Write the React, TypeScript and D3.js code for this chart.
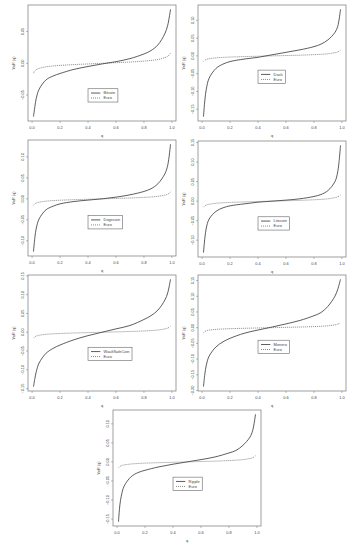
import * as d3 from "d3";

// quantile levels at which the VaR curves were read
const qLevels = [0.01, 0.02, 0.03, 0.05, 0.1, 0.15, 0.2, 0.3, 0.4, 0.5, 0.6, 0.7, 0.8, 0.85, 0.9, 0.95, 0.97, 0.99];

const euroVaR = [-0.0155, -0.012, -0.0100, -0.0080, -0.0055, -0.0042, -0.0033, -0.0020, -0.0010, 0.0, 0.0010, 0.0020, 0.0035, 0.0045, 0.0060, 0.0090, 0.0110, 0.0160];

const bitcoinVaR = [-0.084, -0.068, -0.055, -0.041, -0.026, -0.020, -0.016, -0.0095, -0.005, -0.001, 0.0026, 0.0074, 0.0147, 0.020, 0.029, 0.047, 0.060, 0.085];
const dashVaR = [-0.171, -0.124, -0.094, -0.063, -0.035, -0.023, -0.016, -0.009, -0.004, 0.003, 0.010, 0.017, 0.026, 0.033, 0.045, 0.066, 0.083, 0.131];
const dogecoinVaR = [-0.126, -0.092, -0.070, -0.048, -0.026, -0.0176, -0.012, -0.0064, -0.003, 0.0, 0.004, 0.0096, 0.0176, 0.024, 0.036, 0.060, 0.080, 0.130];
const litecoinVaR = [-0.132, -0.094, -0.069, -0.046, -0.026, -0.017, -0.012, -0.007, -0.0026, 0.0, 0.0026, 0.006, 0.012, 0.017, 0.027, 0.050, 0.075, 0.143];
const waultVaR = [-0.145, -0.123, -0.105, -0.082, -0.056, -0.043, -0.034, -0.020, -0.009, 0.0, 0.009, 0.018, 0.034, 0.044, 0.059, 0.086, 0.105, 0.141];
const moneroVaR = [-0.188, -0.147, -0.120, -0.091, -0.061, -0.045, -0.034, -0.018, -0.0075, 0.002, 0.012, 0.023, 0.038, 0.048, 0.068, 0.100, 0.122, 0.154];
const rippleVaR = [-0.157, -0.113, -0.090, -0.064, -0.039, -0.028, -0.022, -0.013, -0.006, 0.0, 0.006, 0.013, 0.0235, 0.030, 0.0435, 0.065, 0.083, 0.125];

const coinNames = ["Bitcoin", "Dash", "Dogecoin", "Litecoin", "WaultSafeCoin", "Monero", "Ripple"];
const coinSeries = [bitcoinVaR, dashVaR, dogecoinVaR, litecoinVaR, waultVaR, moneroVaR, rippleVaR];
const yTickSets = [
  [-0.05, 0, 0.05],
  [-0.15, -0.1, -0.05, 0, 0.05, 0.1],
  [-0.1, -0.05, 0, 0.05, 0.1],
  [-0.1, -0.05, 0, 0.05, 0.1, 0.15],
  [-0.15, -0.1, -0.05, 0, 0.05, 0.1, 0.15],
  [-0.2, -0.15, -0.1, -0.05, 0, 0.05, 0.1, 0.15],
  [-0.15, -0.1, -0.05, 0, 0.05, 0.1],
];
const xTicks = [0, 0.2, 0.4, 0.6, 0.8, 1.0];

// plot box positions in the page
const boxes = [
  { x: 28, y: 5 },
  { x: 198, y: 5 },
  { x: 28, y: 140 },
  { x: 198, y: 141 },
  { x: 28, y: 275 },
  { x: 198, y: 275 },
  { x: 113, y: 410 },
];
const boxW = 148;
const boxH = 116;
const FONT = "'Liberation Sans', Arial, sans-serif";
const fs = 3.9;
const ink = "#444";

const measure = (() => {
  const c = typeof document !== "undefined" ? document.createElement("canvas").getContext("2d") : null;
  return (t: string) => {
    if (!c) return t.length * fs * 0.5;
    c.font = `${fs}px ${FONT}`;
    return c.measureText(t).width;
  };
})();

// R style 4% extension
const padDomain = (lo: number, hi: number) => {
  const p = (hi - lo) * 0.04;
  return [lo - p, hi + p];
};

const Panel = ({ i }: { i: number }) => {
  const { x: left, y: top } = boxes[i];
  const values = coinSeries[i];
  const name = coinNames[i];
  const all = values.concat(euroVaR);
  const x = d3.scaleLinear().domain(padDomain(d3.min(qLevels)!, d3.max(qLevels)!)).range([left, left + boxW]);
  const y = d3.scaleLinear().domain(padDomain(d3.min(all)!, d3.max(all)!)).range([top + boxH, top]);
  const line = d3.line<number>()
    .x((_, k) => x(qLevels[k]))
    .y((d) => y(d))
    .curve(d3.curveCatmullRom.alpha(0.5));
  const fmtY = d3.format(".2f");
  const fmtX = d3.format(".1f");
  const lx = x(0.4);
  const ly = y(-0.04);
  const lw = 15.6 + Math.max(measure(name), measure("Euro")) + 2.6;
  return (
    <g>
      <rect x={left} y={top} width={boxW} height={boxH} fill="none" stroke="#777" strokeWidth={0.7} />
      <path d={line(values) ?? ""} fill="none" stroke="#333" strokeWidth={0.8} />
      <path d={line(euroVaR) ?? ""} fill="none" stroke="#555" strokeWidth={0.7} strokeDasharray="1,1" />
      {xTicks.map((t) => (
        <g key={t}>
          <line x1={x(t)} x2={x(t)} y1={top + boxH} y2={top + boxH + 2} stroke="#777" strokeWidth={0.5} />
          <text x={x(t)} y={top + boxH + 8.3} fontSize={fs} textAnchor="middle" fill={ink} fontFamily={FONT}>{fmtX(t)}</text>
        </g>
      ))}
      {yTickSets[i].map((t) => (
        <g key={t}>
          <line x1={left - 2} x2={left} y1={y(t)} y2={y(t)} stroke="#777" strokeWidth={0.5} />
          <text transform={`translate(${left - 4.5},${y(t)}) rotate(-90)`} fontSize={fs} textAnchor="middle" fill={ink} fontFamily={FONT}>{fmtY(t)}</text>
        </g>
      ))}
      <text x={left + boxW / 2} y={top + boxH + 16} fontSize={fs} textAnchor="middle" fill={ink} fontFamily={FONT}>q</text>
      <text transform={`translate(${left - 13},${top + boxH / 2}) rotate(-90)`} fontSize={fs} textAnchor="middle" fill={ink} fontFamily={FONT}>VaR (q)</text>
      <rect x={lx} y={ly} width={lw} height={13.3} fill="white" stroke="#666" strokeWidth={0.6} />
      <line x1={lx + 3} x2={lx + 12.3} y1={ly + 4.3} y2={ly + 4.3} stroke="#333" strokeWidth={0.8} />
      <line x1={lx + 3} x2={lx + 12.3} y1={ly + 9.3} y2={ly + 9.3} stroke="#555" strokeWidth={0.7} strokeDasharray="1,1" />
      <text x={lx + 15.6} y={ly + 5.7} fontSize={fs} fill={ink} fontFamily={FONT}>{name}</text>
      <text x={lx + 15.6} y={ly + 10.7} fontSize={fs} fill={ink} fontFamily={FONT}>Euro</text>
    </g>
  );
};

export default function App() {
  return (
    <svg width={352} height={550} style={{ position: "absolute", left: 0, top: 0, background: "white" }}>
      {coinNames.map((_, i) => (
        <Panel key={i} i={i} />
      ))}
    </svg>
  );
}
